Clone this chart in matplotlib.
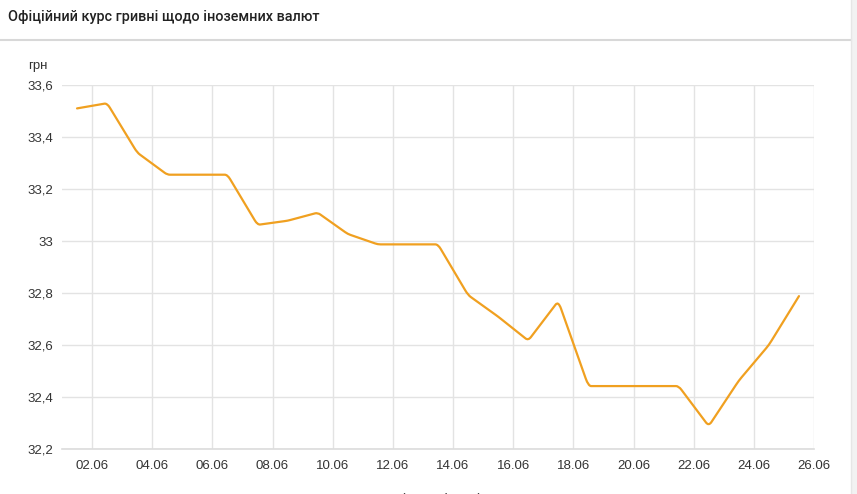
import numpy as np
import matplotlib
matplotlib.use("Agg")
import matplotlib.pyplot as plt
from matplotlib.path import Path
from matplotlib.patches import PathPatch, Rectangle
from matplotlib.lines import Line2D

# official rate, June, one value per day
days = list(range(1, 26))
rate = [33.51, 33.53, 33.34, 33.255, 33.255, 33.255, 33.062, 33.078, 33.109,
        33.027, 32.987, 32.987, 32.987, 32.792, 32.709, 32.617, 32.769, 32.442,
        32.442, 32.442, 32.442, 32.288, 32.463, 32.60, 32.788]

x_ticks = list(range(2, 27, 2))
x_labels = ["%02d.06" % d for d in x_ticks]
y_ticks = [32.2, 32.4, 32.6, 32.8, 33.0, 33.2, 33.4, 33.6]
y_labels = [("%.1f" % v).replace(".0", "").replace(".", ",") for v in y_ticks]

title = "Офіційний курс гривні щодо іноземних валют"
unit = "грн"
xname = "Дата (за 1 місяць)"

line_col = "#f0a020"
grid_col = "#e3e3e3"
text_col = "#333333"


def rounded_path(xs, ys, f=0.09):
	# polyline with slightly rounded corners (quadratic bezier at each vertex)
	P = np.column_stack([xs, ys]).astype(float)
	verts = [tuple(P[0])]
	codes = [Path.MOVETO]
	for i in range(1, len(P) - 1):
		a = P[i] - f * (P[i] - P[i - 1])
		b = P[i] + f * (P[i + 1] - P[i])
		verts += [tuple(a), tuple(P[i]), tuple(b)]
		codes += [Path.LINETO, Path.CURVE3, Path.CURVE3]
	verts.append(tuple(P[-1]))
	codes.append(Path.LINETO)
	return Path(verts, codes)


W, H = 857, 494
fig = plt.figure(figsize=(W / 100, H / 100), dpi=100)
fig.patch.set_facecolor("white")

# header card + shadow
fig.patches.append(Rectangle((0, 1 - 40 / H), 851 / W, 40 / H, transform=fig.transFigure,
							 facecolor="white", edgecolor="none", zorder=0))
fig.add_artist(Line2D([0, 851 / W], [1 - 40.5 / H] * 2, color="#d8d8d8", lw=1.5))
fig.add_artist(Line2D([851 / W] * 2, [0, 1], color="#e6e6e6", lw=1))
fig.patches.append(Rectangle((852 / W, 0), 5 / W, 1, transform=fig.transFigure,
							 facecolor="#f2f2f2", edgecolor="none", zorder=0))
fig.text(8 / W, 1 - 17 / H, title, family="Roboto", weight="medium", fontsize=10.4,
		 color="#222222", va="center", ha="left")

ax = fig.add_axes([62 / W, 45 / H, 752 / W, 364 / H])
ax.set_xlim(1, 26)
ax.set_ylim(32.2, 33.6)

xs = [d + 0.5 for d in days]
ax.add_patch(PathPatch(rounded_path(xs, rate), facecolor="none", edgecolor=line_col,
					   lw=1.6, zorder=3, capstyle="round", joinstyle="round"))

ax.set_xticks(x_ticks)
ax.set_xticklabels(x_labels)
ax.set_yticks(y_ticks)
ax.set_yticklabels(y_labels)
ax.tick_params(length=0, labelsize=9.5, labelcolor=text_col, pad=8)
ax.tick_params(axis="y", pad=6.5)
for lab in ax.get_xticklabels() + ax.get_yticklabels():
	lab.set_family("Liberation Sans")
ax.grid(True, color=grid_col, lw=1)
ax.set_axisbelow(True)
for sp in ax.spines.values():
	sp.set_visible(False)
ax.axhline(32.2, color="#dcdcdc", lw=1.2, zorder=1, clip_on=False)

fig.text(28 / W, 1 - 66 / H, unit, family="Liberation Sans", fontsize=9.5,
		 color=text_col, va="center", ha="left")
fig.text(424 / W, 1 - 500 / H, xname, family="Liberation Sans", fontsize=10,
		 color=text_col, va="center", ha="center")

fig.savefig("out.png", dpi=100)
